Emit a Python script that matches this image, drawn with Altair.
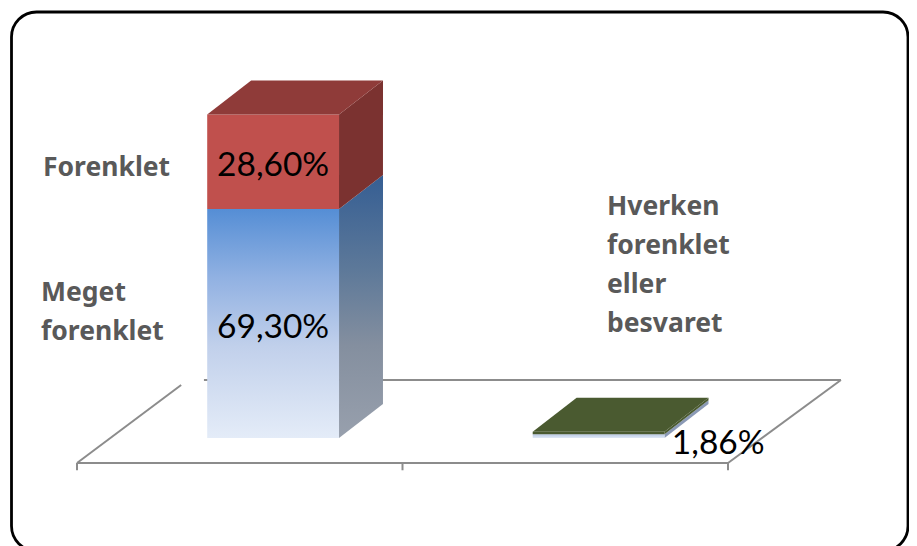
import altair as alt
import pandas as pd

# --- chart values ---
categories = ["Meget forenklet / Forenklet", "Hverken forenklet eller besvaret"]
meget = [69.30, 1.86]
forenklet = [28.60, 0.0]
value_labels = ["69,30%", "28,60%", "1,86%"]
legend_names = ["Forenklet", "Meget\nforenklet", "Hverken\nforenklet\neller\nbesvaret"]

# --- 3D geometry, in scale units ---
BAR_L, BAR_R = 0.40, 0.805
DX, DY = 0.135, 10.3
FLOOR_FRONT = -7.57
FLOOR_BACK = 17.55
FLOOR_DX = 0.347

W, H = 901, 560
PX_X, PX_Y = 325.5, 3.304
x_scale = alt.Scale(domain=[(8 - 77) / PX_X, (909 - 77) / PX_X], range=[0, W], nice=False, zero=False)
y_scale = alt.Scale(domain=[(438 - 568) / PX_Y, (438 - 8) / PX_Y], range=[H, 0], nice=False, zero=False)
X = alt.X("x:Q", scale=x_scale, axis=None)
Y = alt.Y("y:Q", scale=y_scale, axis=None)


def grad(stops, x2=0, y2=1):
    return alt.LinearGradient(
        gradient="linear", x1=0, y1=0, x2=x2, y2=y2,
        stops=[alt.GradientStop(offset=o, color=c) for o, c in stops],
    )


def area(rows, fill):
    df = pd.DataFrame(rows, columns=["x", "y", "y2"])
    return alt.Chart(df).mark_area(color=fill, interpolate="linear", clip=False).encode(
        x=X, y=Y, y2="y2:Q"
    )


def front(i, b, t, fill):
    L, R = i + BAR_L, i + BAR_R
    return area([(L, t, b), (R, t, b)], fill)


def side(i, b, t, fill):
    R = i + BAR_R
    return area([(R, t, b), (R + DX, t + DY, b + DY)], fill)


def top(i, t, fill):
    L, R = i + BAR_L, i + BAR_R
    return area(
        [(L, t, t), (L + DX, t + DY, t), (R, t + DY, t), (R + DX, t + DY, t + DY)], fill
    )


def seg(points, color="#8c8c8c", width=2):
    df = pd.DataFrame(points, columns=["x", "y"])
    return alt.Chart(df).mark_line(color=color, strokeWidth=width).encode(x=X, y=Y)


# frame
frame = alt.Chart(pd.DataFrame({"a": [0]})).mark_rect(
    fill="#ffffff", stroke="#000000", strokeWidth=2.8, cornerRadius=25
).encode(x=alt.value(3.5), x2=alt.value(900), y=alt.value(4), y2=alt.value(543))

# floor
floor = [
    seg([(FLOOR_DX + 2 - 0.0, FLOOR_BACK), (0.39, FLOOR_BACK)]),
    seg([(0, FLOOR_FRONT), (2, FLOOR_FRONT)]),
    seg([(0, FLOOR_FRONT), (0.32, 16.05)]),
    seg([(2, FLOOR_FRONT), (2 + FLOOR_DX, FLOOR_BACK)]),
]
floor += [seg([(i, FLOOR_FRONT), (i, FLOOR_FRONT - 2.2)]) for i in range(len(categories) + 1)]

# bar 1
m0, f0 = meget[0], forenklet[0]
blue_front = grad([(0, "#558ed5"), (0.3, "#91b1e2"), (0.6, "#c1d0eb"), (1, "#e4ecf8")])
blue_side = grad([(0, "#355e93"), (0.35, "#5c7899"), (0.65, "#848f9f"), (1, "#98a0ad")])
bar1 = [
    side(0, 0, m0, blue_side),
    front(0, 0, m0, blue_front),
    side(0, m0, m0 + f0, "#7b3230"),
    front(0, m0, m0 + f0, "#c0504d"),
    top(0, m0 + f0, "#8f3b39"),
]

# bar 2
m1 = meget[1]
pale = grad([(0, "#b9c8e4"), (1, "#dfe8f5")])
bar2 = [
    side(1, 0, m1 * 0.6, "#8a99b5"),
    front(1, 0, m1 * 0.6, pale),
    side(1, m1 * 0.6, m1, "#4a5a30"),
    front(1, m1 * 0.6, m1, "#4a5a30"),
    top(1, m1, "#4a5a30"),
]

# value labels
val_df = pd.DataFrame({
    "x": [(BAR_L + BAR_R) / 2, (BAR_L + BAR_R) / 2, 1 + BAR_R + 0.165],
    "y": [m0 / 2, m0 + f0 / 2, m1 / 2 - 1.6],
    "t": value_labels,
})
val_text = alt.Chart(val_df).mark_text(
    font="Lato", fontSize=33.5, color="#000000", align="center", baseline="middle", dy=4
).encode(x=X, y=Y, text="t:N")


def label(text, px, py):
    return alt.Chart(pd.DataFrame({"t": [text]})).mark_text(
        font="Noto Sans", fontWeight="bold", fontSize=26.5, color="#595959",
        align="left", baseline="middle", lineBreak="\n", lineHeight=39,
    ).encode(x=alt.value(px - 8), y=alt.value(py - 8), text="t:N")


labels = [
    label(legend_names[0], 43, 168),
    label(legend_names[1], 41, 293),
    label(legend_names[2], 607, 207),
]

chart = alt.layer(
    frame, *floor, *bar1, *bar2, val_text, *labels
).properties(
    width=W, height=H, padding=0, autosize=alt.AutoSizeParams(type="none")
).configure_view(stroke=None)

chart.save("out.html", embed_options={"renderer": "svg", "actions": False})
